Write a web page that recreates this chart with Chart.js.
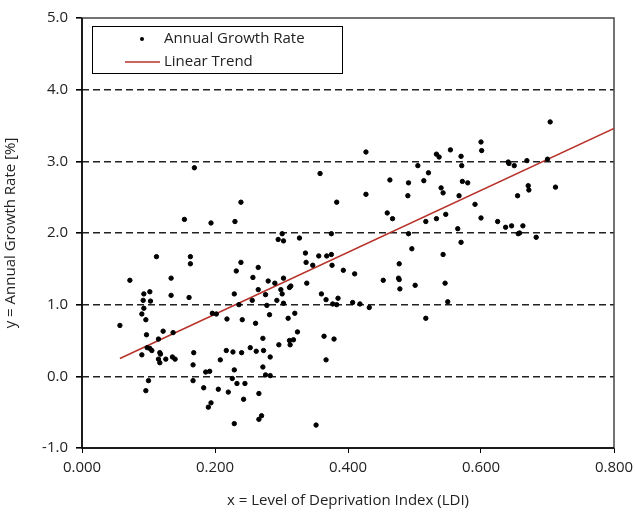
<!DOCTYPE html>
<html>
<head>
<meta charset="utf-8">
<script src="https://cdn.jsdelivr.net/npm/chart.js@4/dist/chart.umd.min.js"></script>
<style>
  body { margin: 0; background: #fff; }
  #wrap { width: 635px; height: 518px; }
</style>
</head>
<body>
<div id="wrap"><canvas id="grafica" width="635" height="518"></canvas></div>
<script>
// LDI values (x) and annual growth rates (y)
const ldi = [
  0.169, 0.154, 0.112, 0.163, 0.163, 0.072, 0.134, 0.093, 0.102, 0.134, 0.161,
  0.092, 0.103, 0.093, 0.090, 0.096, 0.057, 0.122, 0.137, 0.097, 0.115, 0.098,
  0.102, 0.105, 0.090, 0.117, 0.118, 0.115, 0.117, 0.126, 0.136, 0.140, 0.168,
  0.167, 0.100, 0.167, 0.096,
  0.358, 0.239, 0.194, 0.230, 0.301, 0.295, 0.303, 0.327, 0.239, 0.232, 0.265,
  0.336, 0.337, 0.356, 0.368, 0.347, 0.257, 0.280, 0.290, 0.303, 0.338, 0.312,
  0.314, 0.265, 0.299, 0.276, 0.301, 0.229, 0.360,
  0.367, 0.196, 0.202, 0.236, 0.256, 0.278, 0.293, 0.303, 0.282, 0.320, 0.310,
  0.218, 0.241, 0.261, 0.324, 0.364, 0.272, 0.312, 0.318, 0.313, 0.296, 0.253,
  0.217, 0.227, 0.240, 0.262, 0.273, 0.283, 0.367, 0.208, 0.186, 0.192, 0.229,
  0.272, 0.226, 0.276, 0.283, 0.233, 0.245, 0.183, 0.205, 0.220, 0.266, 0.243,
  0.194, 0.190, 0.270, 0.266, 0.229, 0.352,
  0.427, 0.533, 0.537, 0.554, 0.570, 0.571, 0.505, 0.521, 0.514, 0.463, 0.491,
  0.572, 0.580, 0.540, 0.543, 0.490, 0.427, 0.567, 0.383, 0.459, 0.467, 0.547,
  0.533, 0.517, 0.565, 0.570, 0.375, 0.491, 0.496, 0.543, 0.375, 0.376, 0.393,
  0.410, 0.477, 0.476, 0.477, 0.453, 0.478, 0.501, 0.546, 0.385,
  0.377, 0.383, 0.407, 0.418, 0.432, 0.550, 0.517, 0.379,
  0.704, 0.600, 0.601, 0.641, 0.642, 0.650, 0.669, 0.700, 0.712, 0.671, 0.672,
  0.655, 0.591, 0.600, 0.625, 0.637, 0.646, 0.663, 0.656, 0.658, 0.683
];
const growth = [
  2.91, 2.19, 1.67, 1.67, 1.57, 1.34, 1.37, 1.15, 1.18, 1.13, 1.10,
  1.06, 1.05, 0.95, 0.87, 0.79, 0.71, 0.63, 0.61, 0.58, 0.52, 0.40,
  0.39, 0.36, 0.30, 0.33, 0.31, 0.24, 0.19, 0.24, 0.27, 0.24, 0.33,
  0.16, -0.06, -0.06, -0.20,
  2.83, 2.43, 2.14, 2.16, 1.99, 1.91, 1.89, 1.93, 1.59, 1.47, 1.52,
  1.72, 1.59, 1.68, 1.68, 1.55, 1.38, 1.33, 1.30, 1.37, 1.30, 1.24,
  1.26, 1.21, 1.21, 1.14, 1.15, 1.15, 1.15,
  1.07, 0.88, 0.87, 1.00, 1.06, 0.99, 1.06, 1.02, 0.86, 0.88, 0.81,
  0.80, 0.79, 0.74, 0.62, 0.56, 0.53, 0.50, 0.51, 0.44, 0.44, 0.40,
  0.36, 0.34, 0.33, 0.35, 0.36, 0.27, 0.23, 0.23, 0.06, 0.07, 0.09,
  0.13, -0.03, 0.02, 0.01, -0.10, -0.10, -0.16, -0.18, -0.22, -0.24, -0.32,
  -0.37, -0.43, -0.55, -0.60, -0.66, -0.68,
  3.13, 3.10, 3.06, 3.16, 3.07, 2.94, 2.94, 2.84, 2.73, 2.74, 2.70,
  2.72, 2.70, 2.63, 2.56, 2.52, 2.54, 2.52, 2.43, 2.28, 2.20, 2.26,
  2.20, 2.16, 2.06, 1.87, 1.99, 1.99, 1.78, 1.70, 1.70, 1.55, 1.48,
  1.43, 1.57, 1.37, 1.35, 1.34, 1.22, 1.27, 1.30, 1.09,
  1.01, 1.00, 1.03, 1.01, 0.96, 1.04, 0.81, 0.52,
  3.55, 3.27, 3.15, 2.99, 2.97, 2.94, 3.01, 3.03, 2.64, 2.66, 2.60,
  2.52, 2.40, 2.21, 2.16, 2.08, 2.10, 2.10, 1.99, 2.00, 1.94
];
// linear trend end points
const trendX = [0.057, 0.800];
const trendY = [0.25, 3.46];

const FONT = "'Open Sans', sans-serif";

let puntos = ldi.map((x, i) => ({ x: x, y: growth[i] }));
let tendencia = trendX.map((x, i) => ({ x: x, y: trendY[i] }));

const marco = {
    id: "marco",
    beforeDatasetsDraw(chart) {
        const a = chart.chartArea;
        const c = chart.ctx;
        c.save();
        c.strokeStyle = "#444";
        c.lineWidth = 1.5;
        c.strokeRect(a.left, a.top, a.right - a.left, a.bottom - a.top);
        c.strokeStyle = "#000";
        c.beginPath();
        c.moveTo(a.left, a.top);
        c.lineTo(a.left, a.bottom);
        c.lineTo(a.right, a.bottom);
        c.stroke();
        c.restore();
    }
};

const leyenda = {
    id: "leyenda",
    afterDraw(chart) {
        const c = chart.ctx;
        const ds = chart.data.datasets;
        c.save();
        c.fillStyle = "#fff";
        c.fillRect(92, 26, 251, 48);
        c.strokeStyle = "#000";
        c.lineWidth = 1;
        c.strokeRect(92.5, 26.5, 250, 47);
        c.fillStyle = "#000";
        c.beginPath();
        c.arc(142, 39, 2, 0, Math.PI * 2);
        c.fill();
        c.strokeStyle = ds[1].borderColor;
        c.lineWidth = 1.5;
        c.beginPath();
        c.moveTo(125, 62);
        c.lineTo(160, 62);
        c.stroke();
        c.fillStyle = "#222";
        c.font = "15px " + FONT;
        c.textBaseline = "middle";
        c.fillText(ds[0].label, 164, 39);
        c.fillText(ds[1].label, 164, 62);
        c.restore();
    }
};

let ctx = document.getElementById("grafica").getContext("2d");
new Chart(ctx, {
    type: "scatter",
    data: {
        datasets: [{
            label: "Annual Growth Rate",
            data: puntos,
            backgroundColor: "#000",
            borderColor: "#000",
            pointRadius: 2.2,
            pointHoverRadius: 2.2,
            order: 1
        }, {
            label: "Linear Trend",
            type: "line",
            data: tendencia,
            borderColor: "#b8322a",
            borderWidth: 1.6,
            pointRadius: 0,
            fill: false,
            order: 2
        }]
    },
    options: {
        responsive: false,
        animation: false,
        layout: { padding: { top: 18, right: 21, left: 0, bottom: 0 } },
        plugins: {
            legend: { display: false },
            tooltip: { enabled: false }
        },
        scales: {
            x: {
                type: "linear",
                min: 0,
                max: 0.8,
                afterFit: s => { s.height = 70; s.paddingRight = 0; s.paddingLeft = 0; },
                border: { display: false },
                grid: {
                    drawOnChartArea: false,
                    drawTicks: true,
                    tickLength: 5,
                    tickColor: "#000"
                },
                ticks: {
                    stepSize: 0.2,
                    padding: 6,
                    color: "#222",
                    font: { family: FONT, size: 15 },
                    callback: v => v.toFixed(3)
                },
                title: {
                    display: true,
                    text: "x = Level of Deprivation Index (LDI)",
                    color: "#222",
                    font: { family: FONT, size: 15 },
                    padding: { top: 4, bottom: 8 }
                }
            },
            y: {
                min: -1,
                max: 5,
                afterFit: s => { s.width = 82; },
                border: { display: false, dash: [7, 4] },
                grid: {
                    color: c => (c.tick.value === -1 || c.tick.value === 5) ? "rgba(0,0,0,0)" : "#222",
                    lineWidth: 1.6,
                    tickBorderDash: [],
                    tickColor: "#000",
                    tickLength: 6
                },
                ticks: {
                    stepSize: 1,
                    padding: 8,
                    color: "#222",
                    font: { family: FONT, size: 15 },
                    callback: v => v.toFixed(1)
                },
                title: {
                    display: true,
                    text: "y = Annual Growth Rate [%]",
                    color: "#222",
                    font: { family: FONT, size: 15 },
                    padding: { top: 2, bottom: 4 }
                }
            }
        }
    },
    plugins: [marco, leyenda]
});
</script>
</body>
</html>
